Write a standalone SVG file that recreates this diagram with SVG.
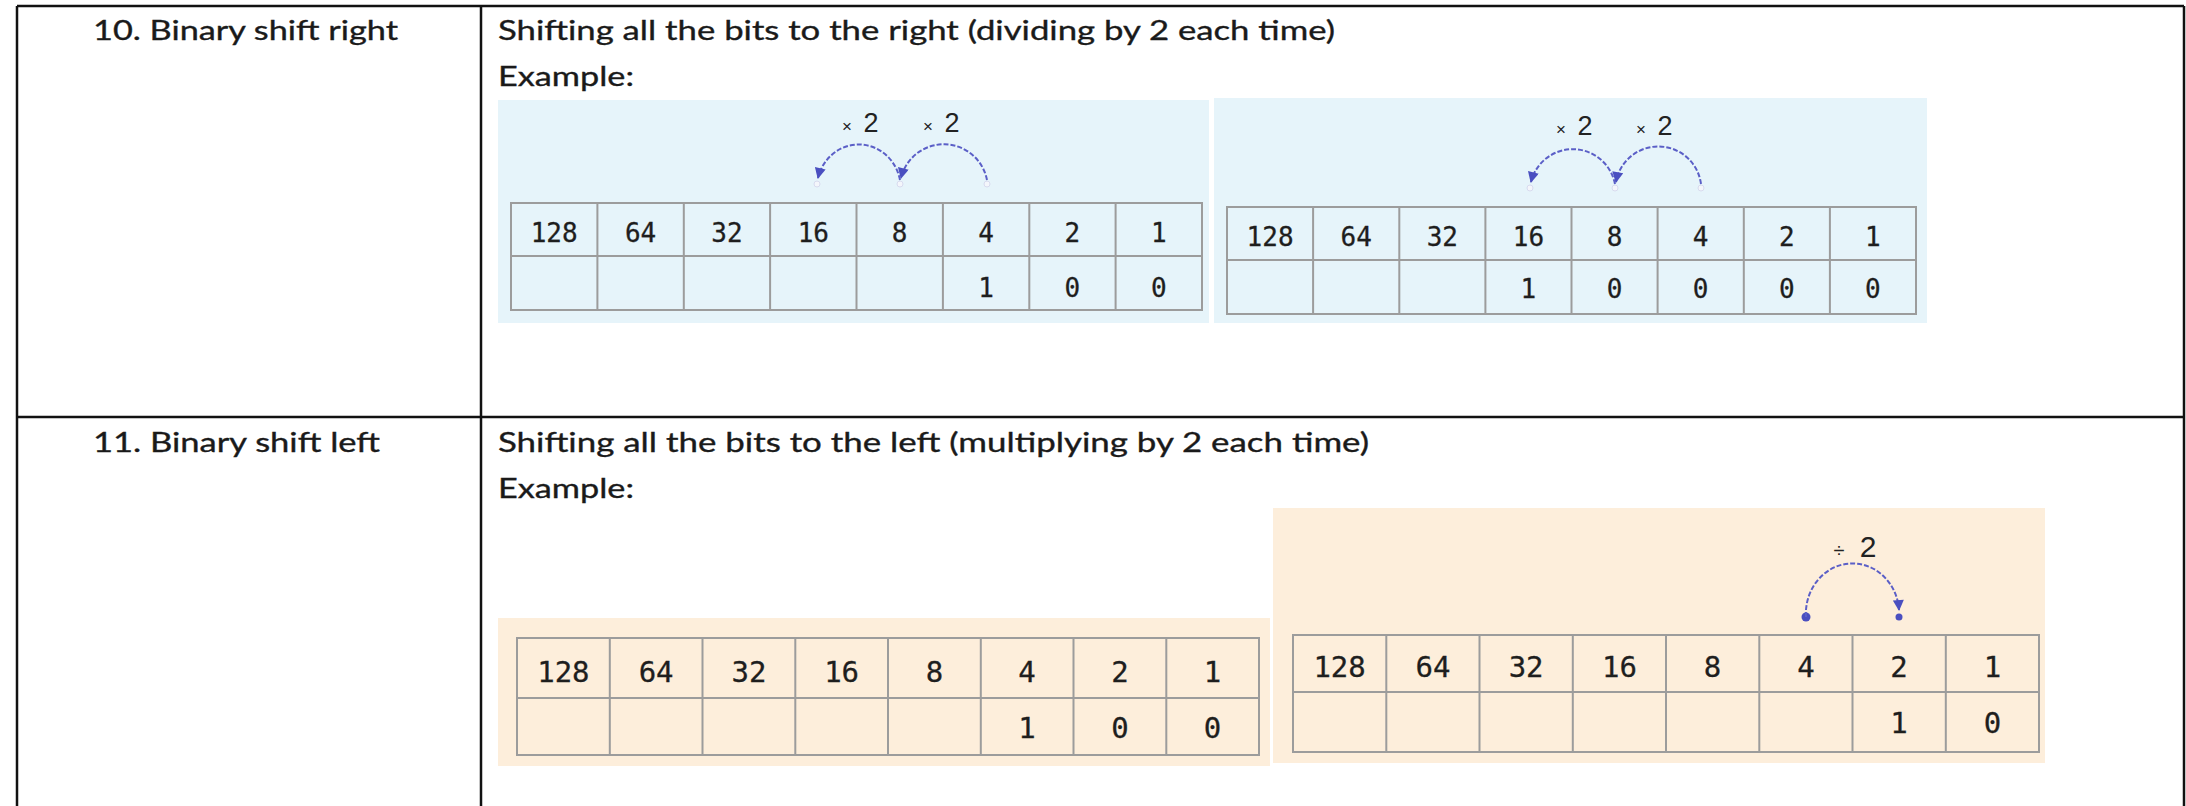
<svg xmlns="http://www.w3.org/2000/svg" width="2186" height="806" viewBox="0 0 2186 806">
<style>
.frame{stroke:#111;stroke-width:2.5;fill:none}
.hd{font-family:Lato,"Liberation Sans",sans-serif;font-size:27px;fill:#1a1a1a;stroke:#1a1a1a;stroke-width:0.35}
.blue{fill:#e6f4fa}
.orange{fill:#fdeedb}
.grid{stroke:#9c9c9c;stroke-width:2;fill:none}
.ds{font-family:"DejaVu Sans Mono","Liberation Mono",monospace;font-size:26px;fill:#1e1e1e;text-anchor:middle;stroke:#1e1e1e;stroke-width:0.3}
.dl{font-family:"DejaVu Sans Mono","Liberation Mono",monospace;font-size:29px;fill:#1e1e1e;text-anchor:middle;stroke:#1e1e1e;stroke-width:0.3}
.lbl{font-family:"Liberation Sans",Arial,sans-serif;fill:#222;text-anchor:middle}
.arc{stroke:#5b5fc7;stroke-width:2;fill:none;stroke-dasharray:5 2}
.end{fill:#f4f6fb;stroke:#d8dbee;stroke-width:1}
.dot{fill:#4a4fc0}
</style>
<defs>
<marker id="ah" viewBox="0 0 10 10" refX="9" refY="5" markerUnits="userSpaceOnUse" markerWidth="13" markerHeight="11" orient="auto">
<path d="M0,0 L10,5 L0,10 z" fill="#4a4fc0"/>
</marker>
</defs>
<rect x="0" y="0" width="2186" height="806" fill="#fff"/>
<g id="frame">
<line class="frame" x1="17" y1="6" x2="2184" y2="6"/>
<line class="frame" x1="17" y1="417" x2="2184" y2="417"/>
<line class="frame" x1="17" y1="6" x2="17" y2="806"/>
<line class="frame" x1="481" y1="6" x2="481" y2="806"/>
<line class="frame" x1="2184" y1="6" x2="2184" y2="806"/>
</g>
<g id="row10-label"><text class="hd" x="93" y="40" textLength="305" lengthAdjust="spacingAndGlyphs">10. Binary shift right</text></g>
<g id="row10-desc">
<text class="hd" x="498" y="40" textLength="837" lengthAdjust="spacingAndGlyphs">Shifting all the bits to the right (dividing by 2 each time)</text>
<text class="hd" x="498" y="86" textLength="136" lengthAdjust="spacingAndGlyphs">Example:</text>
</g>
<g id="row11-label"><text class="hd" x="93" y="452" textLength="287" lengthAdjust="spacingAndGlyphs">11. Binary shift left</text></g>
<g id="row11-desc">
<text class="hd" x="498" y="452" textLength="871" lengthAdjust="spacingAndGlyphs">Shifting all the bits to the left (multiplying by 2 each time)</text>
<text class="hd" x="498" y="498" textLength="136" lengthAdjust="spacingAndGlyphs">Example:</text>
</g>

<g id="example-right-1">
<rect class="blue" x="498" y="100" width="711" height="223"/>
<rect class="grid" x="511" y="203" width="691" height="107"/>
<line class="grid" x1="511" y1="256" x2="1202" y2="256"/>
<path class="grid" d="M597.4,203V310M683.8,203V310M770.1,203V310M856.5,203V310M942.9,203V310M1029.3,203V310M1115.6,203V310"/>
<text class="ds" y="242"><tspan x="554.2">128</tspan><tspan x="640.6">64</tspan><tspan x="727">32</tspan><tspan x="813.3">16</tspan><tspan x="899.7">8</tspan><tspan x="986.1">4</tspan><tspan x="1072.4">2</tspan><tspan x="1158.8">1</tspan></text>
<text class="ds" y="297"><tspan x="986.1">1</tspan><tspan x="1072.4">0</tspan><tspan x="1158.8">0</tspan></text>
<text class="lbl" y="132"><tspan x="847" font-size="17">×</tspan><tspan x="871" font-size="27">2</tspan></text>
<text class="lbl" y="132"><tspan x="928" font-size="17">×</tspan><tspan x="952" font-size="27">2</tspan></text>
</g>

<g id="example-right-2">
<rect class="blue" x="1214" y="98" width="713" height="225"/>
<rect class="grid" x="1227" y="207" width="689" height="107"/>
<line class="grid" x1="1227" y1="260" x2="1916" y2="260"/>
<path class="grid" d="M1313.1,207V314M1399.3,207V314M1485.4,207V314M1571.5,207V314M1657.6,207V314M1743.8,207V314M1829.9,207V314"/>
<text class="ds" y="246"><tspan x="1270.1">128</tspan><tspan x="1356.2">64</tspan><tspan x="1442.3">32</tspan><tspan x="1528.4">16</tspan><tspan x="1614.6">8</tspan><tspan x="1700.7">4</tspan><tspan x="1786.8">2</tspan><tspan x="1872.9">1</tspan></text>
<text class="ds" y="298"><tspan x="1528.4">1</tspan><tspan x="1614.6">0</tspan><tspan x="1700.7">0</tspan><tspan x="1786.8">0</tspan><tspan x="1872.9">0</tspan></text>
<text class="lbl" y="135"><tspan x="1561" font-size="17">×</tspan><tspan x="1585" font-size="27">2</tspan></text>
<text class="lbl" y="135"><tspan x="1641" font-size="17">×</tspan><tspan x="1665" font-size="27">2</tspan></text>
</g>

<g id="example-left-1">
<rect class="orange" x="498" y="618" width="772" height="148"/>
<rect class="grid" x="517" y="638" width="742" height="117"/>
<line class="grid" x1="517" y1="698" x2="1259" y2="698"/>
<path class="grid" d="M609.8,638V755M702.5,638V755M795.3,638V755M888,638V755M980.8,638V755M1073.5,638V755M1166.3,638V755"/>
<text class="dl" y="682"><tspan x="563.4">128</tspan><tspan x="656.1">64</tspan><tspan x="748.9">32</tspan><tspan x="841.6">16</tspan><tspan x="934.4">8</tspan><tspan x="1027.1">4</tspan><tspan x="1119.9">2</tspan><tspan x="1212.6">1</tspan></text>
<text class="dl" y="738"><tspan x="1027.1">1</tspan><tspan x="1119.9">0</tspan><tspan x="1212.6">0</tspan></text>
</g>

<g id="example-left-2">
<rect class="orange" x="1273" y="508" width="772" height="255"/>
<rect class="grid" x="1293" y="635" width="746" height="117"/>
<line class="grid" x1="1293" y1="692" x2="2039" y2="692"/>
<path class="grid" d="M1386.3,635V752M1479.5,635V752M1572.8,635V752M1666,635V752M1759.3,635V752M1852.5,635V752M1945.8,635V752"/>
<text class="dl" y="677"><tspan x="1339.6">128</tspan><tspan x="1432.9">64</tspan><tspan x="1526.1">32</tspan><tspan x="1619.4">16</tspan><tspan x="1712.6">8</tspan><tspan x="1805.9">4</tspan><tspan x="1899.1">2</tspan><tspan x="1992.4">1</tspan></text>
<text class="dl" y="733"><tspan x="1899.1">1</tspan><tspan x="1992.4">0</tspan></text>
<text class="lbl" y="557"><tspan x="1839" font-size="20">÷</tspan><tspan x="1868" font-size="30">2</tspan></text>
</g>

<g id="connectors">
<circle class="end" cx="817" cy="184" r="3"/>
<circle class="end" cx="900" cy="184" r="3"/>
<circle class="end" cx="987" cy="184" r="3"/>
<path class="arc" d="M987,180 A44,44 0 0 0 901,178" marker-end="url(#ah)"/>
<path class="arc" d="M900,180 A42,44 0 0 0 818,178" marker-end="url(#ah)"/>
<circle class="end" cx="1530" cy="188" r="3"/>
<circle class="end" cx="1615" cy="188" r="3"/>
<circle class="end" cx="1701" cy="188" r="3"/>
<path class="arc" d="M1701,184 A43,43 0 0 0 1616,182" marker-end="url(#ah)"/>
<path class="arc" d="M1615,184 A43,43 0 0 0 1531,182" marker-end="url(#ah)"/>
<circle class="dot" cx="1806" cy="617" r="4.5"/>
<circle class="dot" cx="1899" cy="617" r="3.5"/>
<path class="arc" d="M1806,617 A46.5,50 0 0 1 1899,610" marker-end="url(#ah)"/>
</g>
</svg>
